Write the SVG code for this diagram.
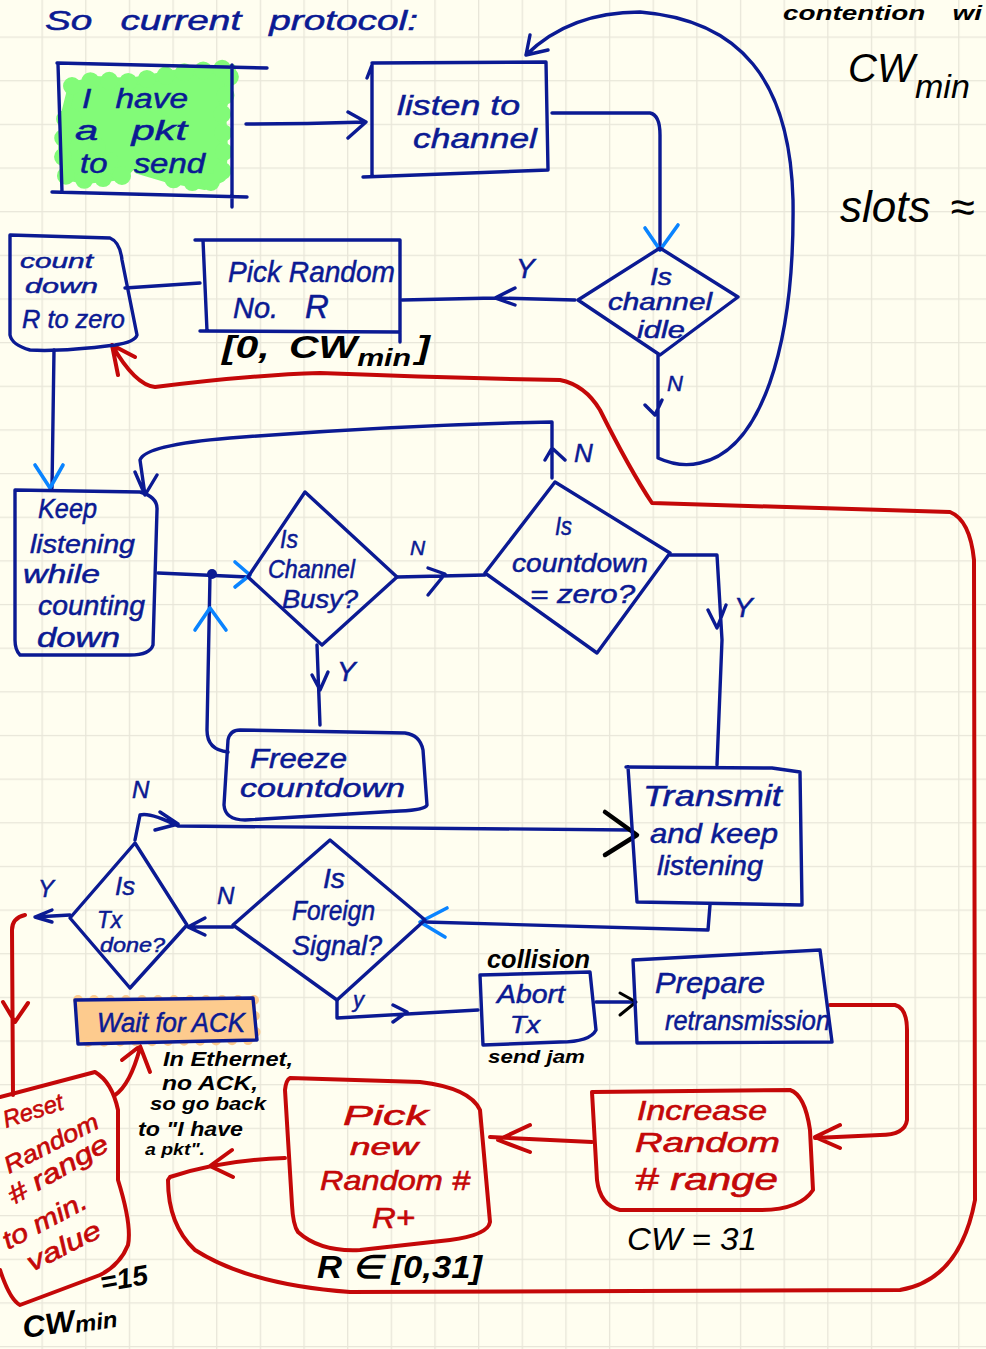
<svg xmlns="http://www.w3.org/2000/svg" width="986" height="1349" viewBox="0 0 986 1349">
<defs>
<pattern id="grid" width="43.65" height="43.65" patternUnits="userSpaceOnUse" x="41.5" y="36.5">
<path d="M0 0H43.65M0 0V43.65" fill="none" stroke="#e8e6d9" stroke-width="2.6"/>
</pattern>
</defs>
<style>
.n,.r,.k,.c{fill:none;stroke-linecap:round;stroke-linejoin:round}
.n{stroke:#0b1a93;stroke-width:3.4}
.r{stroke:#c40808;stroke-width:4}
.k{stroke:#000;stroke-width:4.5}
.c{stroke:#0a84ff;stroke-width:3.6}
text{font-family:"Liberation Sans",Arial,sans-serif;font-style:italic}
.tn{fill:#0b1a93;stroke:#0b1a93;stroke-width:.5}
.tr{fill:#c40808;stroke:#c40808;stroke-width:.6}
.tk{fill:#000;font-weight:700}
.bk{fill:#000}
.scal{fill:none;stroke-linecap:round;stroke-dasharray:0 19;stroke-width:18}
</style>
<rect width="986" height="1349" fill="#fffef0"/>
<rect width="986" height="1349" fill="url(#grid)"/>

<g id="title"><text class="tn" x="45" y="30" font-size="27" word-spacing="12" textLength="373" lengthAdjust="spacingAndGlyphs">So current protocol:</text></g>
<g id="side-notes">
<text class="tk" x="783" y="20" font-size="20" word-spacing="14" textLength="199" lengthAdjust="spacingAndGlyphs">contention wi</text>
<text class="bk" x="848" y="82" font-size="40">CW<tspan x="915" dy="16" font-size="34">min</tspan></text>
<text class="bk" x="840" y="222" font-size="44">slots<tspan x="950">≈</tspan></text>
</g>

<g id="connectors">
<path class="n" d="M246 124Q300 124 366 122M348 112L366 122L348 138"/>
<path class="n" d="M552 113L650 113Q660 115 660 135L660 250"/>
<path class="c" d="M645 228L660 250L678 225"/>
<path class="n" d="M402 300L495 298L575 300M515 288L495 298L515 305"/>
<path class="n" d="M658 355L658 458Q680 468 700 463C760 450 795 350 793 200C790 80 740 20 640 12Q570 12 526 55M530 35L526 55L548 50M645 405L655 415L662 400"/>
<path class="n" d="M125 288L200 283"/>
<path class="n" d="M54 350L52 488"/>
<path class="c" d="M35 465L50 488L63 465"/>
<path class="r" d="M112 345Q135 385 155 387Q250 375 320 373Q450 378 560 380Q585 385 600 410Q630 470 652 503L950 512Q970 520 974 560L975 1200Q960 1280 900 1290L350 1292Q250 1285 195 1250Q168 1225 168 1180L170 1177Q220 1160 285 1158M135 357L112 345L118 375M232 1150L210 1166L233 1177"/>
<path class="n" d="M552 478L552 422Q400 425 230 438Q145 445 140 460L145 495M135 472L145 495L157 475M545 460L552 448L565 460"/>
<path class="n" d="M158 573L248 577"/>
<circle cx="212" cy="574" r="5" fill="#0b1a93"/>
<path class="c" d="M235 562L250 575L235 587"/>
<path class="n" d="M228 752Q207 750 207 730L210 575"/>
<path class="c" d="M195 630L210 608L226 630"/>
<path class="n" d="M317 645L320 725M312 675L320 690L328 672"/>
<path class="n" d="M397 577L485 575M428 568L445 574L428 595"/>
<path class="n" d="M670 555L717 555L722 640L717 765M708 610L717 628L726 605"/>
<path class="n" d="M135 840L140 815Q150 812 178 826L630 830M160 812L178 824L155 830"/>
<path class="k" d="M605 812L637 835L605 855"/>
<path class="n" d="M710 905L708 930L425 922"/>
<path class="c" d="M447 908L420 922L445 937"/>
<path class="n" d="M233 927L188 927M205 918L188 927L205 935"/>
<path class="n" d="M70 915L35 917M52 910L35 917L52 922"/>
<path class="r" d="M25 915Q12 918 12 930L13 1095M3 1002L15 1022L28 1003"/>
<path class="n" d="M337 1000L337 1018L478 1010M393 1005L407 1012L393 1022"/>
<path class="n" d="M596 1002L635 1002"/>
<path class="k" d="M620 993L636 1002L620 1015" style="stroke-width:3"/>
<path class="r" d="M830 1005L895 1005Q907 1008 907 1030L907 1120Q905 1135 880 1135L815 1138M840 1125L815 1137L840 1148"/>
<path class="r" d="M592 1142L490 1137M530 1125L498 1140L530 1152"/>
<path class="r" d="M115 1095Q130 1085 140 1048M122 1060L140 1046L150 1072"/>
</g>

<g id="node-have-pkt">
<path d="M72 86L95 80L130 82L185 72L232 68L228 90L222 110L224 150L222 178L205 186L165 178L138 170L158 140L122 176L85 180L66 176L62 150L66 110Z" fill="#82fb78" stroke="#82fb78" stroke-width="8" stroke-linejoin="round"/>
<path class="scal" stroke="#82fb78" d="M72 86L95 80L130 82L185 72L232 68L222 110L224 150L222 178L205 184L165 178M122 176L85 180L66 176L62 150L66 110Z"/>
<path class="n" d="M57 63L267 68M58 64L62 192M52 192L247 197M232 65L232 207"/>
<text class="tn" x="82" y="108" font-size="27" word-spacing="12" textLength="106" lengthAdjust="spacingAndGlyphs">I have</text>
<text class="tn" x="75" y="140" font-size="27" word-spacing="14" textLength="112" lengthAdjust="spacingAndGlyphs">a pkt</text>
<text class="tn" x="80" y="173" font-size="27" word-spacing="14" textLength="125" lengthAdjust="spacingAndGlyphs">to send</text>
</g>
<g id="node-listen">
<path class="n" d="M372 63L546 62L548 170L363 177M367 78L372 65L372 175"/>
<text class="tn" x="397" y="115" font-size="28" textLength="123" lengthAdjust="spacingAndGlyphs">listen to</text>
<text class="tn" x="413" y="148" font-size="28" textLength="124" lengthAdjust="spacingAndGlyphs">channel</text>
</g>
<g id="node-idle">
<path class="n" d="M578 300L660 248L738 297L660 355Z"/>
<text class="tn" x="650" y="285" font-size="23" textLength="22" lengthAdjust="spacingAndGlyphs">Is</text>
<text class="tn" x="608" y="310" font-size="23" textLength="104" lengthAdjust="spacingAndGlyphs">channel</text>
<text class="tn" x="637" y="338" font-size="24" textLength="48" lengthAdjust="spacingAndGlyphs">idle</text>
</g>
<g id="node-pick-r">
<path class="n" d="M195 240L400 240L400 342M203 240L207 331M200 331L400 332"/>
<text class="tn" x="228" y="282" font-size="29" textLength="167" lengthAdjust="spacingAndGlyphs">Pick Random</text>
<text class="tn" x="233" y="318" font-size="29">No.<tspan x="305" font-size="33">R</tspan></text>
<text class="tk" x="222" y="358" font-size="31" word-spacing="6" textLength="208" lengthAdjust="spacingAndGlyphs">[0, CW<tspan dy="8" font-size="23">min</tspan><tspan dx="4" dy="-8">]</tspan></text>
</g>
<g id="node-countdown">
<path class="n" d="M10 235L110 238Q120 242 122 260L137 335Q135 342 115 345Q60 352 30 350Q12 345 10 335Z"/>
<text class="tn" x="20" y="268" font-size="21" textLength="73" lengthAdjust="spacingAndGlyphs">count</text>
<text class="tn" x="25" y="293" font-size="21" textLength="73" lengthAdjust="spacingAndGlyphs">down</text>
<text class="tn" x="22" y="328" font-size="26" textLength="103" lengthAdjust="spacingAndGlyphs">R to zero</text>
</g>
<g id="node-keep">
<path class="n" d="M15 490L140 492Q158 497 157 510L153 645Q150 655 130 655L20 655Q15 650 15 640Z"/>
<text class="tn" x="38" y="518" font-size="28" textLength="59" lengthAdjust="spacingAndGlyphs">Keep</text>
<text class="tn" x="30" y="553" font-size="26" textLength="105" lengthAdjust="spacingAndGlyphs">listening</text>
<text class="tn" x="23" y="583" font-size="26" textLength="77" lengthAdjust="spacingAndGlyphs">while</text>
<text class="tn" x="38" y="615" font-size="27" textLength="107" lengthAdjust="spacingAndGlyphs">counting</text>
<text class="tn" x="37" y="647" font-size="27" textLength="83" lengthAdjust="spacingAndGlyphs">down</text>
</g>
<g id="node-busy">
<path class="n" d="M305 492L397 577L322 645L248 577Z"/>
<text class="tn" x="280" y="548" font-size="26" textLength="18" lengthAdjust="spacingAndGlyphs">Is</text>
<text class="tn" x="268" y="578" font-size="26" textLength="87" lengthAdjust="spacingAndGlyphs">Channel</text>
<text class="tn" x="282" y="608" font-size="26" textLength="76" lengthAdjust="spacingAndGlyphs">Busy?</text>
</g>
<g id="node-zero">
<path class="n" d="M555 482L670 553L597 653L485 573Z"/>
<text class="tn" x="555" y="535" font-size="25" textLength="17" lengthAdjust="spacingAndGlyphs">Is</text>
<text class="tn" x="512" y="572" font-size="25" textLength="136" lengthAdjust="spacingAndGlyphs">countdown</text>
<text class="tn" x="530" y="603" font-size="26" textLength="105" lengthAdjust="spacingAndGlyphs">= zero?</text>
</g>
<g id="node-freeze">
<path class="n" d="M240 730L405 733Q420 735 423 750L427 805Q425 810 400 811L245 820Q225 820 224 805L228 740Q230 730 240 730Z"/>
<text class="tn" x="250" y="768" font-size="28" textLength="97" lengthAdjust="spacingAndGlyphs">Freeze</text>
<text class="tn" x="240" y="797" font-size="25" textLength="165" lengthAdjust="spacingAndGlyphs">countdown</text>
</g>
<g id="node-transmit">
<path class="n" d="M626 767L772 768L800 772L802 905L637 902L628 767"/>
<text class="tn" x="643" y="806" font-size="30" textLength="139" lengthAdjust="spacingAndGlyphs">Transmit</text>
<text class="tn" x="650" y="843" font-size="28" textLength="128" lengthAdjust="spacingAndGlyphs">and keep</text>
<text class="tn" x="657" y="875" font-size="27" textLength="106" lengthAdjust="spacingAndGlyphs">listening</text>
</g>
<g id="node-foreign">
<path class="n" d="M330 840L425 920L337 1000L233 925Z"/>
<text class="tn" x="323" y="888" font-size="27" textLength="22" lengthAdjust="spacingAndGlyphs">Is</text>
<text class="tn" x="292" y="920" font-size="27" textLength="83" lengthAdjust="spacingAndGlyphs">Foreign</text>
<text class="tn" x="292" y="955" font-size="27" textLength="90" lengthAdjust="spacingAndGlyphs">Signal?</text>
</g>
<g id="node-txdone">
<path class="n" d="M135 843L187 925L130 988L70 918Z"/>
<text class="tn" x="115" y="895" font-size="26" textLength="20" lengthAdjust="spacingAndGlyphs">Is</text>
<text class="tn" x="97" y="928" font-size="24" textLength="25" lengthAdjust="spacingAndGlyphs">Tx</text>
<text class="tn" x="100" y="952" font-size="20" textLength="65" lengthAdjust="spacingAndGlyphs">done?</text>
</g>
<g id="node-abort">
<path class="n" d="M480 975L590 972L596 1030Q590 1042 560 1042L483 1045Z"/>
<text class="tk" x="487" y="968" font-size="26" textLength="103" lengthAdjust="spacingAndGlyphs">collision</text>
<text class="tn" x="497" y="1003" font-size="26" textLength="68" lengthAdjust="spacingAndGlyphs">Abort</text>
<text class="tn" x="510" y="1033" font-size="24" textLength="30" lengthAdjust="spacingAndGlyphs">Tx</text>
<text class="tk" x="488" y="1063" font-size="19" textLength="97" lengthAdjust="spacingAndGlyphs">send jam</text>
</g>
<g id="node-prepare">
<path class="n" d="M633 960L820 950L832 1042L637 1043Z"/>
<text class="tn" x="655" y="993" font-size="30" textLength="110" lengthAdjust="spacingAndGlyphs">Prepare</text>
<text class="tn" x="665" y="1030" font-size="27" textLength="165" lengthAdjust="spacingAndGlyphs">retransmission</text>
</g>
<g id="node-increase">
<path class="r" d="M592 1092L790 1090Q805 1095 810 1130L813 1190Q800 1210 760 1210L620 1210Q600 1205 597 1180Z"/>
<text class="tr" x="637" y="1120" font-size="27" textLength="130" lengthAdjust="spacingAndGlyphs">Increase</text>
<text class="tr" x="635" y="1152" font-size="27" textLength="145" lengthAdjust="spacingAndGlyphs">Random</text>
<text class="tr" x="635" y="1190" font-size="31" textLength="143" lengthAdjust="spacingAndGlyphs"># range</text>
<text class="bk" x="627" y="1250" font-size="32" textLength="130" lengthAdjust="spacingAndGlyphs">CW = 31</text>
</g>
<g id="node-picknew">
<path class="r" d="M290 1078L420 1082Q470 1088 480 1110L490 1222Q488 1235 450 1240L360 1250Q320 1252 298 1232Q293 1225 292 1205L285 1090Q286 1080 290 1078Z"/>
<text class="tr" x="343" y="1125" font-size="28" textLength="85" lengthAdjust="spacingAndGlyphs">Pick</text>
<text class="tr" x="350" y="1155" font-size="23" textLength="68" lengthAdjust="spacingAndGlyphs">new</text>
<text class="tr" x="320" y="1190" font-size="28" textLength="150" lengthAdjust="spacingAndGlyphs">Random #</text>
<text class="tr" x="372" y="1228" font-size="30" textLength="43" lengthAdjust="spacingAndGlyphs">R+</text>
<text class="tk" x="317" y="1278" font-size="32" textLength="165" lengthAdjust="spacingAndGlyphs">R ∈ [0,31]</text>
</g>
<g id="node-reset">
<path class="r" d="M0 1097L95 1072Q112 1082 118 1110L118 1180Q132 1225 128 1245Q120 1265 100 1275L20 1305Q10 1300 0 1270"/>
<text class="tr" transform="rotate(-18 6 1128)" x="6" y="1128" font-size="24" textLength="62" lengthAdjust="spacingAndGlyphs">Reset</text>
<text class="tr" transform="rotate(-27 9 1174)" x="9" y="1174" font-size="24" textLength="103" lengthAdjust="spacingAndGlyphs">Random</text>
<text class="tr" transform="rotate(-30 14 1205)" x="14" y="1205" font-size="26" textLength="112" lengthAdjust="spacingAndGlyphs"># range</text>
<text class="tr" transform="rotate(-28 8 1250)" x="8" y="1250" font-size="26" textLength="92" lengthAdjust="spacingAndGlyphs">to min.</text>
<text class="tr" transform="rotate(-27 32 1272)" x="32" y="1272" font-size="26" textLength="80" lengthAdjust="spacingAndGlyphs">value</text>
<text class="tk" x="102" y="1292" font-size="28" textLength="48" lengthAdjust="spacingAndGlyphs" transform="rotate(-10 102 1292)">=15</text>
<text class="tk" x="24" y="1338" font-size="30" textLength="95" lengthAdjust="spacingAndGlyphs" transform="rotate(-8 24 1338)">CW<tspan dy="2" font-size="23">min</tspan></text>
</g>
<g id="node-wait">
<rect x="76" y="1000" width="180" height="42" rx="4" fill="#fdcb8e"/>
<path class="scal" stroke="#fdcb8e" style="stroke-width:10;stroke-dasharray:0 16" d="M78 1000L254 1000L256 1040L80 1042"/>
<path class="n" d="M75 1000L253 998L257 1040L78 1044Z"/>
<text class="tn" x="97" y="1032" font-size="27" textLength="148" lengthAdjust="spacingAndGlyphs">Wait for ACK</text>
</g>
<g id="note-ethernet">
<text class="tk" x="163" y="1066" font-size="20" textLength="130" lengthAdjust="spacingAndGlyphs">In Ethernet,</text>
<text class="tk" x="162" y="1090" font-size="20" textLength="96" lengthAdjust="spacingAndGlyphs">no ACK,</text>
<text class="tk" x="150" y="1110" font-size="18" textLength="116" lengthAdjust="spacingAndGlyphs">so go back</text>
<text class="tk" x="138" y="1136" font-size="20" textLength="105" lengthAdjust="spacingAndGlyphs">to "I have</text>
<text class="tk" x="145" y="1155" font-size="16" textLength="60" lengthAdjust="spacingAndGlyphs">a pkt".</text>
</g>
<g id="edge-labels">
<text class="tn" x="516" y="278" font-size="28">Y</text>
<text class="tn" x="667" y="391" font-size="22">N</text>
<text class="tn" x="574" y="462" font-size="26">N</text>
<text class="tn" x="410" y="555" font-size="21">N</text>
<text class="tn" x="734" y="617" font-size="28">Y</text>
<text class="tn" x="337" y="681" font-size="28">Y</text>
<text class="tn" x="132" y="798" font-size="24">N</text>
<text class="tn" x="217" y="904" font-size="24">N</text>
<text class="tn" x="38" y="897" font-size="24">Y</text>
<text class="tn" x="353" y="1007" font-size="22">y</text>
</g>
</svg>
